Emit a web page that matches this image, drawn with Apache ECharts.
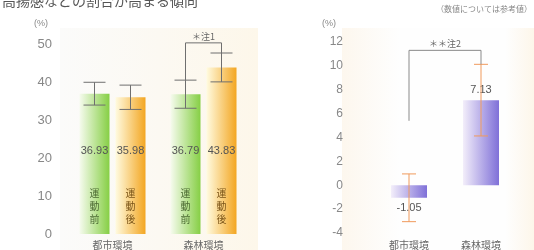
<!DOCTYPE html>
<html><head><meta charset="utf-8">
<script src="https://cdn.jsdelivr.net/npm/echarts@6/dist/echarts.min.js"></script>
<style>html,body{margin:0;padding:0;background:#fff}#c{width:534px;height:250px}</style>
</head><body><div id="c"></div>
<script>
// ---- data ----
const titleText = '高揚感などの割合が高まる傾向';
const noteText = '（数値については参考値）';
const unitText = '(%)';
const categories = ['都市環境', '森林環境'];
const seriesNames = ['運動前', '運動後'];
const beforeValues = [36.93, 36.79];
const afterValues = [35.98, 43.83];
const beforeErr = [3.0, 3.7];
const afterErr = [3.2, 3.8];
const changeValues = [-1.05, 7.13];
const changeErr = [2.0, 3.0];
const leftTicks = { min: 0, max: 50, interval: 10 };
const rightTicks = { min: -4, max: 12, interval: 2 };
const note1 = '＊注1';
const note2 = '＊＊注2';
const leftBracketTop = 50.3;
const rightBracketStart = 5.4;
const rightBracketTop = 11.3;

// ---- chart ----
const FONT = '"Liberation Sans", Arial, "Noto Sans CJK JP", sans-serif';
const JP = '"Noto Sans CJK JP", sans-serif';
const chart = echarts.init(document.getElementById('c'), null, { renderer: 'canvas' });
const HALF = 18; // half distance between paired bar centres (px)

function vertical(s) { return s.split('').map(ch => '{t|' + ch + '}').join('\n'); }
function barLabel(name, color) {
  return {
    show: true, position: 'insideBottom', distance: 8,
    formatter: p => '{v|' + p.value.toFixed(2) + '}\n{g| }\n' + vertical(name),
    rich: {
      v: { fontSize: 11, color: '#555', lineHeight: 14, fontFamily: FONT },
      g: { lineHeight: 29, fontSize: 8 },
      t: { fontSize: 10, lineHeight: 13, color: color, fontFamily: JP }
    }
  };
}
const grad = (c0, c1) => new echarts.graphic.LinearGradient(0, 0, 1, 0, [{ offset: 0, color: c0 }, { offset: 1, color: c1 }]);

const errData = [];
for (let i = 0; i < categories.length; i++) {
  errData.push([i, beforeValues[i], beforeErr[i], -1]);
  errData.push([i, afterValues[i], afterErr[i], 1]);
}
function errRender(color, half, cap) {
  return function (params, api) {
    const c = api.value(0), v = api.value(1), e = api.value(2), side = api.value(3);
    const x = api.coord([c, v])[0] + side * half;
    const y1 = api.coord([c, v + e])[1];
    const y2 = api.coord([c, v - e])[1];
    const st = { stroke: color, lineWidth: 1 };
    return { type: 'group', children: [
      { type: 'line', shape: { x1: x, y1: y1, x2: x, y2: y2 }, style: st },
      { type: 'line', shape: { x1: x - cap, y1: y1, x2: x + cap, y2: y1 }, style: st },
      { type: 'line', shape: { x1: x - cap, y1: y2, x2: x + cap, y2: y2 }, style: st }
    ]};
  };
}

const option = {
  animation: false,
  graphic: [
    { type: 'rect', left: 60, top: 28, z: -10, shape: { width: 198, height: 222 },
      style: { fill: grad('#fbfbfa', '#fdf7ea') } },
    { type: 'rect', left: 342, top: 28, z: -10, shape: { width: 192, height: 222 },
      style: { fill: new echarts.graphic.LinearGradient(0, 0, 1, 0, [
        { offset: 0, color: '#fdf7ee' }, { offset: 0.3, color: '#fefefe' }, { offset: 0.85, color: '#fefefe' }, { offset: 1, color: '#fdf6ea' }]) } },
    { type: 'text', left: 2, top: -6, style: { text: titleText, font: '14px ' + JP, fill: '#555' } },
    { type: 'text', right: 2, top: 5, style: { text: noteText, font: '8px ' + JP, fill: '#888' } },
    { type: 'text', left: 34, top: 19, style: { text: unitText, font: '9px ' + FONT, fill: '#888' } },
    { type: 'text', left: 322, top: 19, style: { text: unitText, font: '9px ' + FONT, fill: '#888' } }
  ],
  grid: [
    { left: 67, width: 182, top: 44, bottom: 13 },
    { left: 373, width: 144, top: 42, bottom: 15 }
  ],
  xAxis: [
    { type: 'category', gridIndex: 0, data: categories, axisLine: { show: false }, axisTick: { show: false },
      axisLabel: { color: '#666', fontSize: 10, margin: 6, fontFamily: JP } },
    { type: 'category', gridIndex: 1, data: categories, axisLine: { show: false }, axisTick: { show: false },
      axisLabel: { color: '#666', fontSize: 10, margin: 7, fontFamily: JP } }
  ],
  yAxis: [
    { type: 'value', gridIndex: 0, min: leftTicks.min, max: leftTicks.max, interval: leftTicks.interval,
      splitLine: { show: false }, axisLine: { show: false }, axisTick: { show: false },
      axisLabel: { color: '#888', fontSize: 13, margin: 15, fontFamily: FONT } },
    { type: 'value', gridIndex: 1, min: rightTicks.min, max: rightTicks.max, interval: rightTicks.interval,
      splitLine: { show: false }, axisLine: { show: false }, axisTick: { show: false },
      axisLabel: { color: '#888', fontSize: 12, margin: 30, fontFamily: FONT } }
  ],
  series: [
    { name: seriesNames[0], type: 'bar', xAxisIndex: 0, yAxisIndex: 0, data: beforeValues,
      barWidth: 30, barGap: '20%', itemStyle: { color: grad('#f6fbee', '#86cf45') },
      label: barLabel(seriesNames[0], '#4c6b33') },
    { name: seriesNames[1], type: 'bar', xAxisIndex: 0, yAxisIndex: 0, data: afterValues,
      barWidth: 30, barGap: '20%', itemStyle: { color: grad('#fffbe0', '#f3a622') },
      label: barLabel(seriesNames[1], '#7a5418') },
    { type: 'custom', xAxisIndex: 0, yAxisIndex: 0, z: 5, data: errData, encode: { x: 0, y: 1 },
      renderItem: errRender('#6f6f6f', HALF, 11) },
    { type: 'custom', xAxisIndex: 0, yAxisIndex: 0, z: 6, clip: false,
      data: [[1, beforeValues[1] + beforeErr[1], afterValues[1] + afterErr[1], leftBracketTop]],
      encode: { x: 0, y: 3 },
      renderItem: function (params, api) {
        const c = api.value(0);
        const cx = api.coord([c, 0])[0];
        const yL = api.coord([c, api.value(1)])[1];
        const yR = api.coord([c, api.value(2)])[1];
        const yT = api.coord([c, api.value(3)])[1];
        return { type: 'group', children: [
          { type: 'polyline', shape: { points: [[cx - HALF, yL], [cx - HALF, yT], [cx + HALF, yT], [cx + HALF, yR]] },
            style: { stroke: '#6f6f6f', lineWidth: 1, fill: null } },
          { type: 'text', style: { text: note1, x: cx, y: yT - 2, align: 'center', verticalAlign: 'bottom',
            fill: '#666', font: '9px ' + JP } }
        ]};
      } },
    { type: 'bar', xAxisIndex: 1, yAxisIndex: 1, barWidth: 36,
      data: changeValues.map(v => ({ value: v, label: { position: v < 0 ? 'bottom' : 'top' } })),
      itemStyle: { color: grad('#f3eefa', '#7f70d8') },
      label: { show: true, distance: 5, color: '#555', fontSize: 11, fontFamily: FONT,
        formatter: p => p.value.toFixed(2) } },
    { type: 'custom', xAxisIndex: 1, yAxisIndex: 1, z: 5,
      data: changeValues.map((v, i) => [i, v, changeErr[i], 0]), encode: { x: 0, y: 1 },
      renderItem: errRender('#f09a5c', 0, 7) },
    { type: 'custom', xAxisIndex: 1, yAxisIndex: 1, z: 6, clip: false,
      data: [[0, 1, rightBracketStart, rightBracketTop, changeValues[1] + changeErr[1]]],
      encode: { x: 0, y: 3 },
      renderItem: function (params, api) {
        const x0 = api.coord([api.value(0), 0])[0];
        const x1 = api.coord([api.value(1), 0])[0];
        const yS = api.coord([0, api.value(2)])[1];
        const yT = api.coord([0, api.value(3)])[1];
        const yE = api.coord([0, api.value(4)])[1];
        return { type: 'group', children: [
          { type: 'polyline', shape: { points: [[x0, yS], [x0, yT], [x1, yT], [x1, yE]] },
            style: { stroke: '#8a8a8a', lineWidth: 1, fill: null } },
          { type: 'text', style: { text: note2, x: (x0 + x1) / 2, y: yT - 2, align: 'center', verticalAlign: 'bottom',
            fill: '#666', font: '9px ' + JP } }
        ]};
      } }
  ]
};
chart.setOption(option);
</script>
</body></html>
